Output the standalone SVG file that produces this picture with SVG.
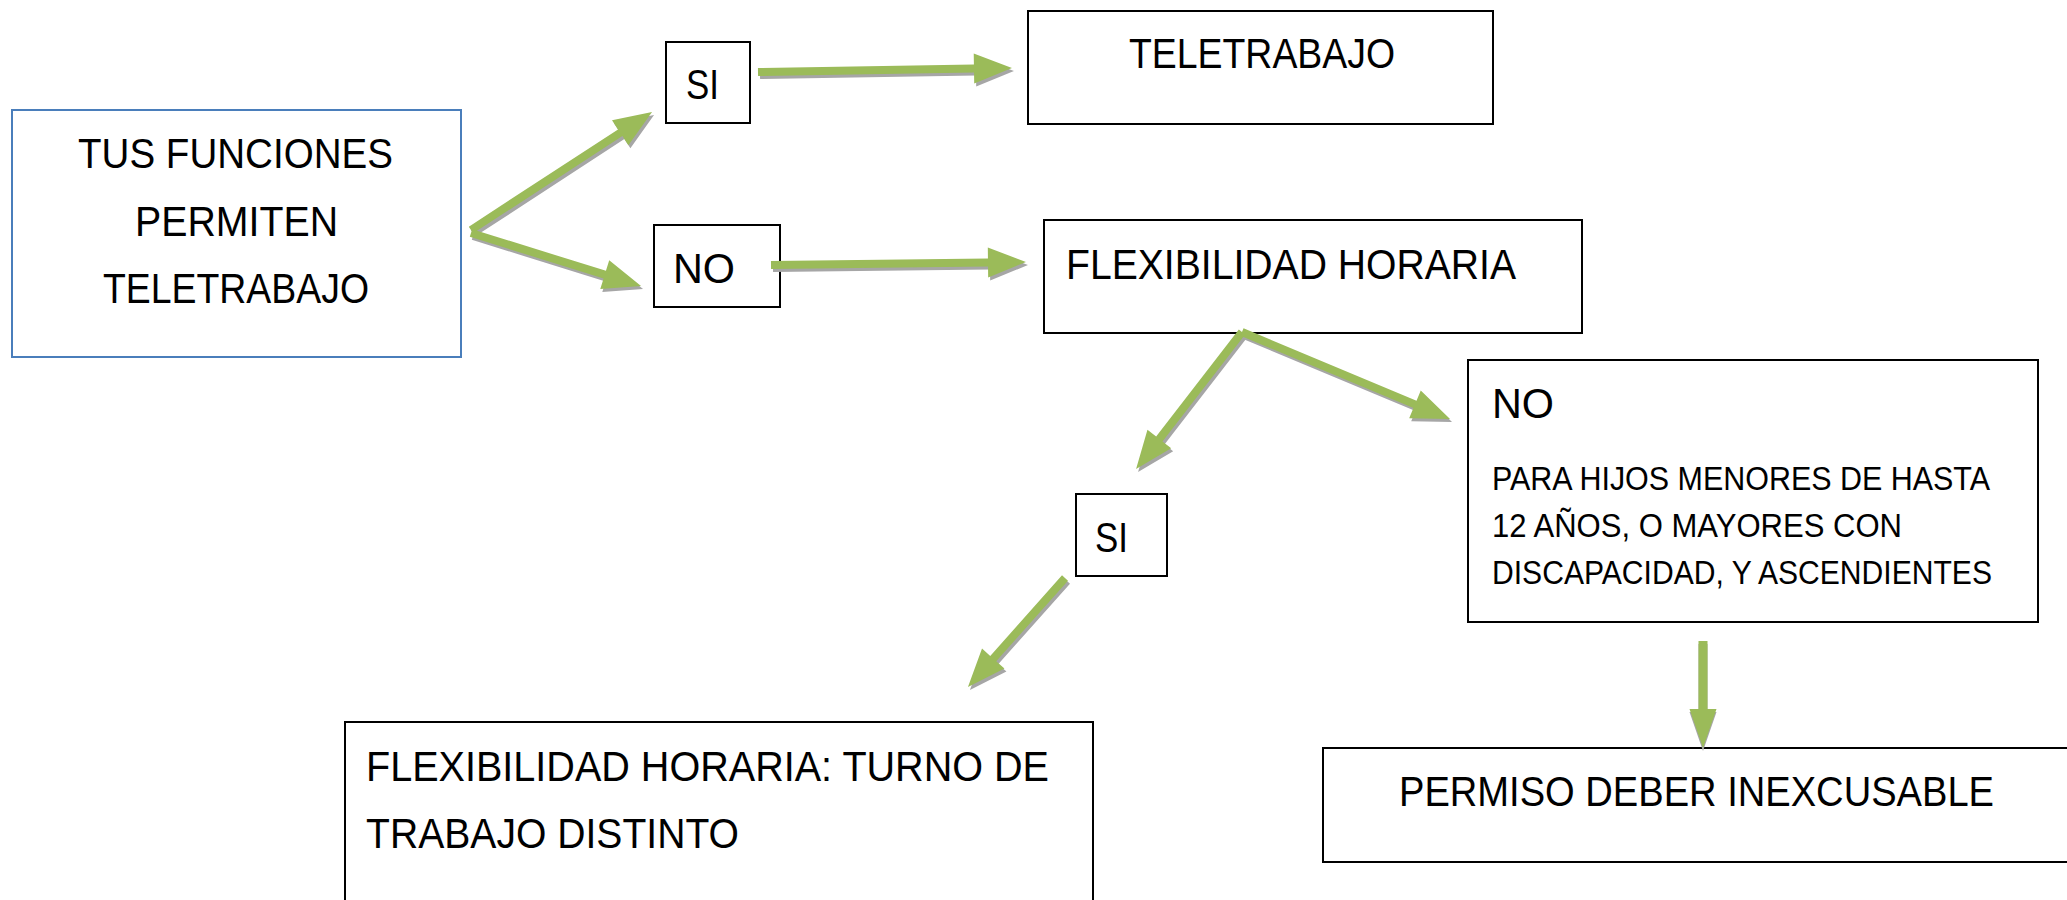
<svg xmlns="http://www.w3.org/2000/svg" xmlns:xlink="http://www.w3.org/1999/xlink" width="2067" height="900" viewBox="0 0 2067 900">
<style>
.box{fill:#ffffff;stroke:#000000;stroke-width:2}
.blue{fill:#ffffff;stroke:#4A7EBB;stroke-width:2}
.t{font-family:"Liberation Sans",Arial,sans-serif;font-size:42px;fill:#000000}
.s{font-family:"Liberation Sans",Arial,sans-serif;font-size:33px;fill:#000000}
.sh{fill:#A6A6A6}
.ar{fill:#9BBB59}
</style>
<defs>
<path id="a1" d="M0,-4 H178.1 V-15 L216.1,0 L178.1,15 V4 H0 Z" transform="translate(471,230) rotate(-33.1)"/>
<path id="a2" d="M0,-4 H140.1 V-15 L178.1,0 L140.1,15 V4 H0 Z" transform="translate(471,233) rotate(17.3)"/>
<path id="a3" d="M0,-4 H216 V-15 L254,0 L216,15 V4 H0 Z" transform="translate(758,72) rotate(-0.9)"/>
<path id="a4" d="M0,-4 H217 V-15 L255,0 L217,15 V4 H0 Z" transform="translate(771,265) rotate(-0.67)"/>
<path id="a5" d="M0,-4 H135.2 V-15 L173.2,0 L135.2,15 V4 H0 Z" transform="translate(1242,332) rotate(127.7)"/>
<path id="a6" d="M0,-4 H187.5 V-15 L225.5,0 L187.5,15 V4 H0 Z" transform="translate(1242,332) rotate(22.7)"/>
<path id="a7" d="M0,-4 H107.9 V-15 L145.9,0 L107.9,15 V4 H0 Z" transform="translate(1065,578) rotate(131.7)"/>
<path id="a8" d="M0,-4.5 H68 V-13.5 L107,0 L68,13.5 V4.5 H0 Z" transform="translate(1703,641) rotate(90)"/>
</defs>

<g id="node-main">
<rect class="blue" x="12" y="110" width="449" height="247"/>
<text class="t" x="78" y="168" textLength="315" lengthAdjust="spacingAndGlyphs">TUS FUNCIONES</text>
<text class="t" x="135" y="236" textLength="203" lengthAdjust="spacingAndGlyphs">PERMITEN</text>
<text class="t" x="103" y="303" textLength="266" lengthAdjust="spacingAndGlyphs">TELETRABAJO</text>
</g>

<g id="node-si1">
<rect class="box" x="666" y="42" width="84" height="81"/>
<text class="t" x="686" y="99" textLength="33" lengthAdjust="spacingAndGlyphs">SI</text>
</g>

<g id="node-teletrabajo">
<rect class="box" x="1028" y="11" width="465" height="113"/>
<text class="t" x="1129" y="68" textLength="266" lengthAdjust="spacingAndGlyphs">TELETRABAJO</text>
</g>

<g id="node-no1">
<rect class="box" x="654" y="225" width="126" height="82"/>
<text class="t" x="673" y="283" textLength="62" lengthAdjust="spacingAndGlyphs">NO</text>
</g>

<g id="node-flex">
<rect class="box" x="1044" y="220" width="538" height="113"/>
<text class="t" x="1066" y="279" textLength="450" lengthAdjust="spacingAndGlyphs">FLEXIBILIDAD HORARIA</text>
</g>

<g id="node-no2">
<rect class="box" x="1468" y="360" width="570" height="262"/>
<text class="t" x="1492" y="418" textLength="62" lengthAdjust="spacingAndGlyphs">NO</text>
<text class="s" x="1492" y="490" textLength="498" lengthAdjust="spacingAndGlyphs">PARA HIJOS MENORES DE HASTA</text>
<text class="s" x="1492" y="537" textLength="410" lengthAdjust="spacingAndGlyphs">12 AÑOS, O MAYORES CON</text>
<text class="s" x="1492" y="584" textLength="500" lengthAdjust="spacingAndGlyphs">DISCAPACIDAD, Y ASCENDIENTES</text>
</g>

<g id="node-si2">
<rect class="box" x="1076" y="494" width="91" height="82"/>
<text class="t" x="1095" y="552" textLength="33" lengthAdjust="spacingAndGlyphs">SI</text>
</g>

<g id="node-turno">
<rect class="box" x="345" y="722" width="748" height="200"/>
<text class="t" x="366" y="781" textLength="683" lengthAdjust="spacingAndGlyphs">FLEXIBILIDAD HORARIA: TURNO DE</text>
<text class="t" x="366" y="848" textLength="373" lengthAdjust="spacingAndGlyphs">TRABAJO DISTINTO</text>
</g>

<g id="node-permiso">
<rect class="box" x="1323" y="748" width="760" height="114"/>
<text class="t" x="1399" y="806" textLength="595" lengthAdjust="spacingAndGlyphs">PERMISO DEBER INEXCUSABLE</text>
</g>

<g id="connectors">
<g class="sh" transform="translate(2,3)">
<use xlink:href="#a1"/><use xlink:href="#a2"/><use xlink:href="#a3"/><use xlink:href="#a4"/>
<use xlink:href="#a5"/><use xlink:href="#a6"/><use xlink:href="#a7"/>
</g>
<g class="sh" transform="translate(0,3)"><use xlink:href="#a8"/></g>
<g class="ar">
<use xlink:href="#a1"/><use xlink:href="#a2"/><use xlink:href="#a3"/><use xlink:href="#a4"/>
<use xlink:href="#a5"/><use xlink:href="#a6"/><use xlink:href="#a7"/><use xlink:href="#a8"/>
</g>
</g>
</svg>
